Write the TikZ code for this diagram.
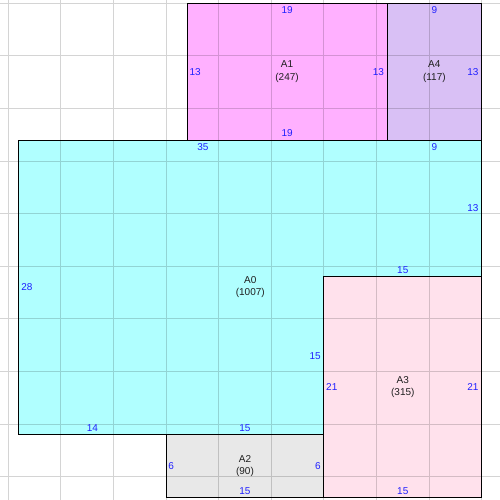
\documentclass[tikz,border=0pt]{standalone}
\usepackage{fontspec}
\setmainfont{Liberation Sans}
\definecolor{cA0}{HTML}{B0FFFF}
\definecolor{cA1}{HTML}{FFB0FF}
\definecolor{cA4}{HTML}{D9C0F5}
\definecolor{cA2}{HTML}{E8E8E8}
\definecolor{cA3}{HTML}{FFE1EC}
\definecolor{lenblue}{HTML}{2020FF}
\begin{document}
\begin{tikzpicture}[x=10.52pt,y=-10.52pt,
  wall/.style={draw=black,line width=0.9pt},
  gridln/.style={draw=black,draw opacity=0.17,line width=0.9pt},
  len/.style={text=lenblue,font=\fontsize{10}{12}\selectfont,inner sep=0pt},
  room/.style={font=\fontsize{10}{12.3}\selectfont,align=center,inner sep=0pt,text=black!88}]
\useasboundingbox (-0.789,-0.314) rectangle (46.74,47.21);
% fills
\fill[cA0] (1,13) -- (45,13) -- (45,26) -- (30,26) -- (30,41) -- (1,41) -- cycle;
\fill[cA1] (17,0) rectangle (36,13);
\fill[cA4] (36,0) rectangle (45,13);
\fill[cA2] (15,41) rectangle (30,47);
\fill[cA3] (30,26) rectangle (45,47);
% grid
\draw[gridln] \foreach \g in {0,5,...,45} {(\g,-0.5) -- (\g,47.5) (-1,\g) -- (47,\g)};
% walls
\draw[wall] (1,13) -- (45,13) -- (45,26) -- (30,26) -- (30,41) -- (1,41) -- cycle;
\draw[wall] (17,0) rectangle (36,13);
\draw[wall] (36,0) rectangle (45,13);
\draw[wall] (15,41) rectangle (30,47);
\draw[wall] (30,26) rectangle (45,47);
% room names
\node[room] (a0) at (23,27) {A0\\(1007)};
\node[room] (a1) at (26.5,6.5) {A1\\(247)};
\node[room] (a2) at (22.5,44) {A2\\(90)};
\node[room] (a3) at (37.5,36.5) {A3\\(315)};
\node[room] (a4) at (40.5,6.5) {A4\\(117)};
% A1 lengths
\node[len,anchor=north] (a1t) at (26.5,0.3) {19};
\node[len,anchor=south] (a1b) at (26.5,12.7) {19};
\node[len,anchor=west] (a1l) at (17.22,6.5) {13};
\node[len,anchor=east] (a1r) at (35.72,6.5) {13};
% A4 lengths
\node[len,anchor=north] (a4t) at (40.5,0.3) {9};
\node[len,anchor=east] (a4r) at (44.72,6.5) {13};
% A0 lengths
\node[len,anchor=north] (a0t1) at (18.5,13.3) {35};
\node[len,anchor=north] (a0t2) at (40.5,13.3) {9};
\node[len,anchor=east] (a0r1) at (44.72,19.5) {13};
\node[len,anchor=south] (a0b1) at (37.5,25.7) {15};
\node[len,anchor=east] (a0r2) at (29.72,33.5) {15};
\node[len,anchor=south] (a0b2) at (22.5,40.7) {15};
\node[len,anchor=south] (a0b3) at (8,40.7) {14};
\node[len,anchor=west] (a0l) at (1.22,27) {28};
% A2 lengths
\node[len,anchor=west] (a2l) at (15.2,44) {6};
\node[len,anchor=east] (a2r) at (29.72,44) {6};
\node[len,anchor=south] (a2b) at (22.5,46.7) {15};
% A3 lengths
\node[len,anchor=west] (a3l) at (30.2,36.5) {21};
\node[len,anchor=east] (a3r) at (44.72,36.5) {21};
\node[len,anchor=south] (a3b) at (37.5,46.7) {15};
\end{tikzpicture}
\end{document}
